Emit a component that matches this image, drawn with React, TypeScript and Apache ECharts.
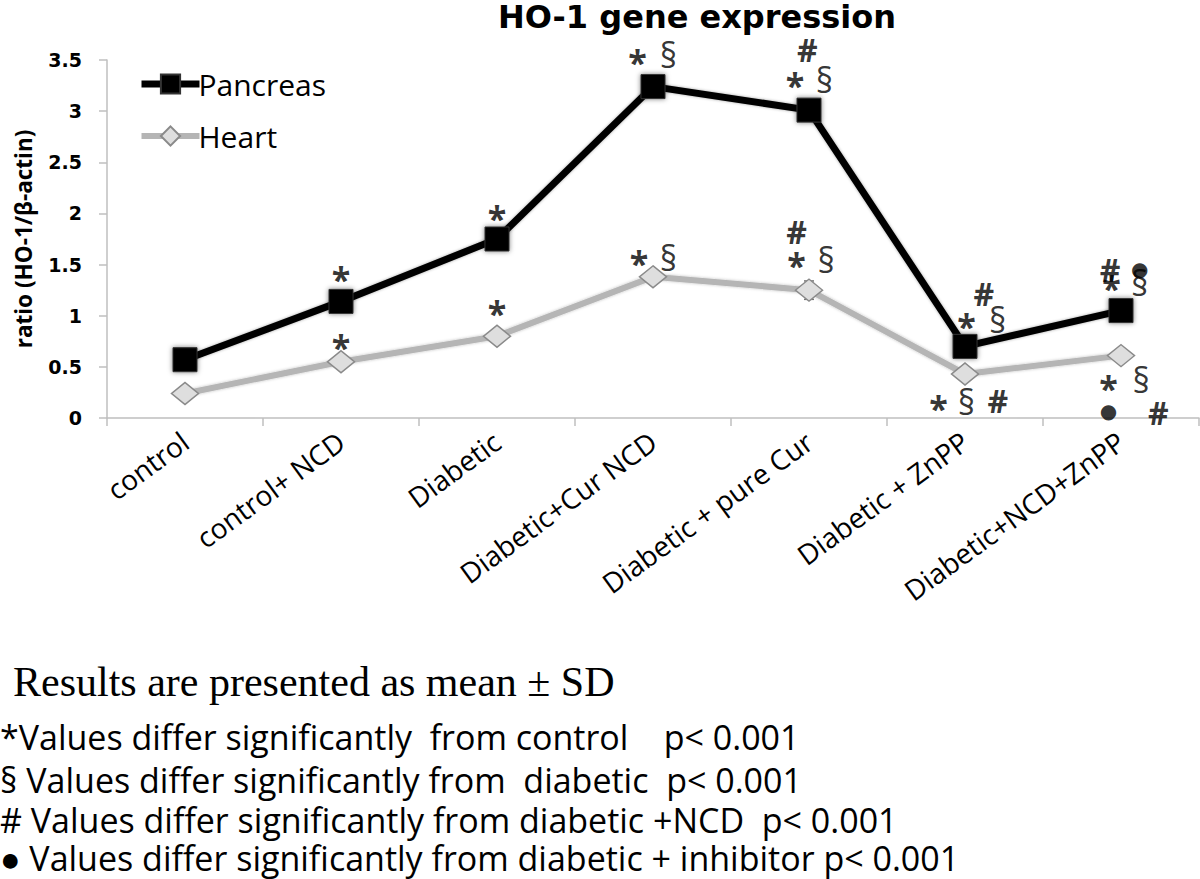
import React, { useEffect, useRef } from "react";
import * as echarts from "echarts";

const categories = [
  "control",
  "control+ NCD",
  "Diabetic",
  "Diabetic+Cur NCD",
  "Diabetic + pure Cur",
  "Diabetic + ZnPP",
  "Diabetic+NCD+ZnPP",
];
const pancreas = [0.57, 1.14, 1.75, 3.24, 3.01, 0.7, 1.05];
const heart = [0.24, 0.55, 0.8, 1.38, 1.25, 0.43, 0.61];
const pancreasSD = [0.03, 0.03, 0.04, 0.04, 0.1, 0.03, 0.03];
const heartSD = [0.02, 0.03, 0.03, 0.03, 0.09, 0.03, 0.03];
const yTicks = [0, 0.5, 1, 1.5, 2, 2.5, 3, 3.5];

// significance marks: text, x on a 0..7 axis (category i centre = i + 0.5), y in ratio units
const markText = [
  "*", "*", "*", "§", "#", "*", "§", "#", "*", "§", "#", "●", "*", "§",
  "*", "*", "*", "§", "#", "*", "§", "*", "§", "#", "§", "*", "●", "#",
];
const markX = [
  1.5, 2.5, 3.4, 3.6, 4.49, 4.41, 4.6, 5.62, 5.51, 5.71, 6.43, 6.62, 6.44, 6.62,
  1.5, 2.5, 3.41, 3.6, 4.42, 4.42, 4.61, 5.33, 5.51, 5.71, 6.63, 6.42, 6.42, 6.74,
];
const markY = [
  1.36, 1.96, 3.48, 3.55, 3.6, 3.26, 3.3, 1.22, 0.9, 0.96, 1.45, 1.46, 1.27, 1.32,
  0.69, 1.03, 1.52, 1.56, 1.82, 1.5, 1.54, 0.1, 0.16, 0.17, 0.37, 0.29, 0.07, 0.05,
];

const footTitle = "Results are presented as mean ± SD";
const footLines = [
  "*Values differ significantly  from control    p< 0.001",
  "§ Values differ significantly from  diabetic  p< 0.001",
  "# Values differ significantly from diabetic +NCD  p< 0.001",
  "● Values differ significantly from diabetic + inhibitor p< 0.001",
];

const SANS = "'Open Sans', sans-serif";
const WIDE = "'DejaVu Sans', sans-serif";

export default function App() {
  const ref = useRef<HTMLDivElement>(null);
  useEffect(() => {
    if (!ref.current) return;
    const chart = echarts.init(ref.current, null, { renderer: "svg" });

    const errRender = (sd: number[], color: string) => (params: any, api: any) => {
      const i = api.value(0);
      const v = api.value(1);
      const s = sd[i];
      const top = api.coord([i, v + s]);
      const bot = api.coord([i, v - s]);
      const w = 5;
      return {
        type: "group",
        children: [
          { type: "line", shape: { x1: top[0], y1: top[1], x2: bot[0], y2: bot[1] }, style: { stroke: color, lineWidth: 1.5 } },
          { type: "line", shape: { x1: top[0] - w, y1: top[1], x2: top[0] + w, y2: top[1] }, style: { stroke: color, lineWidth: 1.5 } },
          { type: "line", shape: { x1: bot[0] - w, y1: bot[1], x2: bot[0] + w, y2: bot[1] }, style: { stroke: color, lineWidth: 1.5 } },
        ],
      };
    };

    const marks = markText.map((t, i) => ({
      value: [markX[i], markY[i]],
      label: {
        formatter: t,
        offset: [0, 0],
        fontSize: t === "●" ? 20 : t === "*" ? 34 : t === "§" ? 34 : 32,
        lineHeight: t === "●" ? 14 : 20,
        fontWeight: t === "*" || t === "#" ? "bold" : "normal",
        fontFamily: t === "●" ? WIDE : SANS,
      },
    }));

    chart.setOption({
      animation: false,
      title: {
        text: "HO-1 gene expression",
        left: 498,
        top: 2,
        padding: 0,
        textStyle: { fontFamily: WIDE, fontSize: 32, lineHeight: 30, fontWeight: "bold", color: "#000" },
      },
      legend: {
        data: [
          { name: "Pancreas", lineStyle: { width: 7, color: "#000" } },
          { name: "Heart", lineStyle: { width: 6, color: "#b5b5b5" } },
        ],
        orient: "vertical",
        left: 133,
        top: 64,
        itemWidth: 58,
        itemHeight: 24,
        itemGap: 22,
        textStyle: { fontFamily: SANS, fontSize: 30, color: "#000", padding: [0, 0, 0, -6] },
      },
      grid: { left: 107, right: 1, top: 60, bottom: 461, containLabel: false },
      xAxis: [
        {
          type: "category",
          data: categories,
          boundaryGap: true,
          axisLine: { lineStyle: { color: "#bfbfbf", width: 1.5 } },
          axisTick: { show: true, length: 8, lineStyle: { color: "#bfbfbf", width: 1.5 } },
          axisLabel: {
            interval: 0,
            rotate: 36,
            margin: 20,
            fontFamily: SANS,
            fontSize: 28,
            color: "#000",
          },
        },
        { type: "value", min: 0, max: 7, show: false },
      ],
      yAxis: {
        type: "value",
        min: 0,
        max: 3.5,
        interval: 0.5,
        name: "ratio (HO-1/β-actin)",
        nameLocation: "middle",
        nameGap: 72,
        nameTextStyle: { fontFamily: SANS, fontSize: 22.5, fontWeight: "bold", color: "#000" },
        axisLine: { show: true, lineStyle: { color: "#bfbfbf", width: 1.5 } },
        axisTick: { show: true, length: 8, lineStyle: { color: "#bfbfbf", width: 1.5 } },
        splitLine: { show: false },
        axisLabel: {
          margin: 25,
          fontFamily: WIDE,
          fontWeight: "bold",
          fontSize: 19,
          color: "#000",
          formatter: (v: number) => (yTicks.includes(v) ? String(v) : ""),
        },
      },
      series: [
        {
          type: "custom",
          name: "pSD",
          renderItem: errRender(pancreasSD, "#222"),
          data: pancreas.map((v, i) => [i, v]),
          z: 1,
          silent: true,
        },
        {
          type: "custom",
          name: "hSD",
          renderItem: errRender(heartSD, "#777"),
          data: heart.map((v, i) => [i, v]),
          z: 1,
          silent: true,
        },
        {
          name: "Heart",
          type: "line",
          data: heart,
          z: 2,
          symbol: "diamond",
          symbolSize: [27, 22],
          lineStyle: { color: "#b5b5b5", width: 6, shadowBlur: 3, shadowColor: "rgba(0,0,0,0.25)" },
          itemStyle: { color: "#dedede", borderColor: "#8a8a8a", borderWidth: 1.5 },
        },
        {
          name: "Pancreas",
          type: "line",
          data: pancreas,
          z: 3,
          symbol: "rect",
          symbolSize: 24,
          lineStyle: { color: "#000", width: 7, shadowBlur: 3, shadowColor: "rgba(0,0,0,0.35)" },
          itemStyle: { color: "#000", borderColor: "#333", borderWidth: 1, shadowBlur: 5, shadowColor: "rgba(0,0,0,0.5)" },
        },
        {
          name: "marks",
          type: "scatter",
          xAxisIndex: 1,
          symbolSize: 0,
          clip: false,
          z: 4,
          silent: true,
          data: marks,
          label: {
            show: true,
            position: "inside",
            color: "#000",
            fontFamily: SANS,
          },
        },
      ],
      graphic: [
        {
          type: "text",
          left: 13,
          top: 661,
          style: { text: footTitle, fontFamily: "'Liberation Serif', serif", fontSize: 42, fill: "#000" },
        },
        ...footLines.map((t, i) => ({
          type: "text",
          left: 0,
          top: [719, 762, 802, 840][i],
          style: { text: t, fontFamily: SANS, fontSize: 34, lineHeight: 36, fill: "#000" },
        })),
      ],
    });
    return () => chart.dispose();
  }, []);
  return (
    <div
      ref={ref}
      style={{ position: "fixed", left: 0, top: 0, width: 1200, height: 879, background: "#fff" }}
    />
  );
}
